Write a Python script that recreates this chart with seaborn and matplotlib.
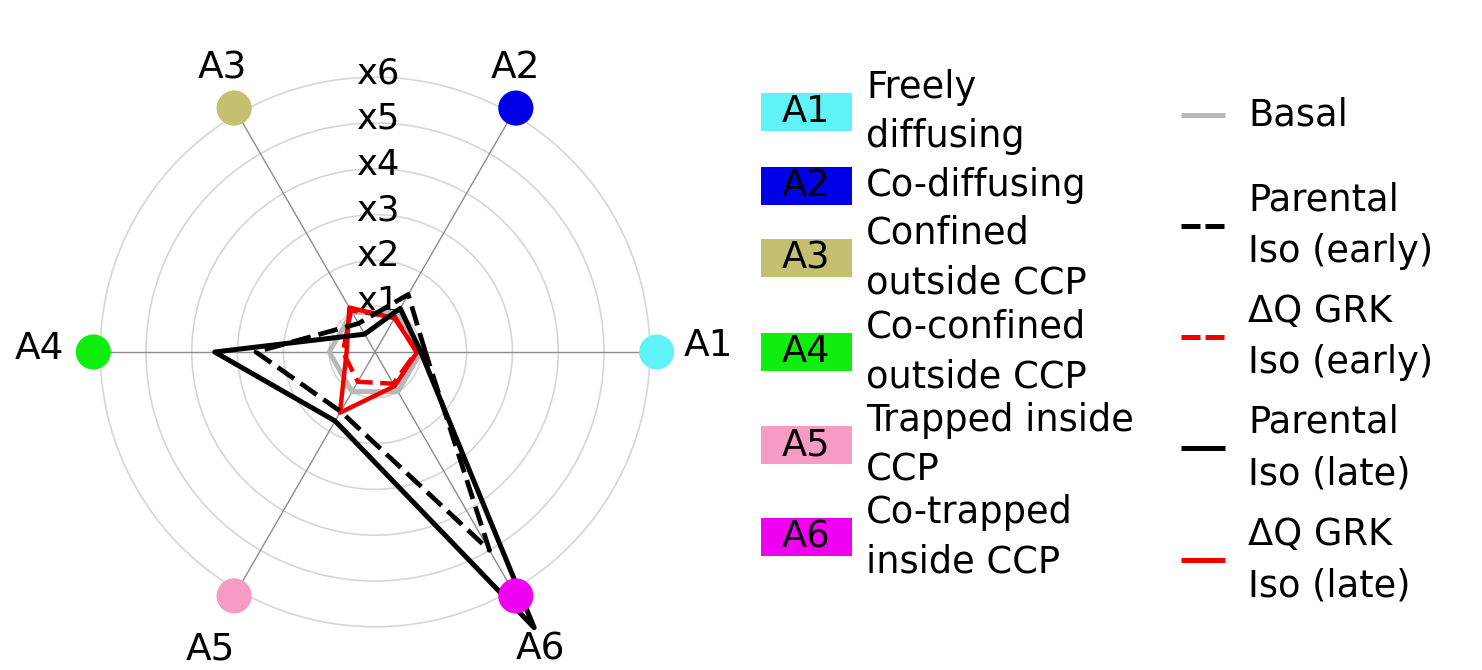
# Radar chart: SPT diffusion states, basal vs Iso stimulation
import numpy as np
import matplotlib
matplotlib.use("Agg")
import matplotlib.pyplot as plt
from matplotlib.lines import Line2D
from matplotlib.patches import Rectangle
import seaborn as sns

# =========================
# DATA
# =========================
axis_names = ["A1", "A2", "A3", "A4", "A5", "A6"]
axis_angles_deg = [0, 60, 120, 180, 240, 300]
axis_colors = ["#5ff2f7", "#0000e6", "#c4c070", "#10ee10", "#f59bc4", "#f000f0"]
class_names = [
    "Freely\ndiffusing",
    "Co-diffusing",
    "Confined\noutside CCP",
    "Co-confined\noutside CCP",
    "Trapped inside\nCCP",
    "Co-trapped\ninside CCP",
]

ring_values = [1, 2, 3, 4, 5, 6]
ring_labels = ["x1", "x2", "x3", "x4", "x5", "x6"]

basal = [1.0, 1.0, 1.0, 1.0, 1.0, 1.0]
parental_early = [1.1, 1.45, 0.72, 2.6, 1.5, 5.0]
dq_early = [0.9, 0.88, 1.05, 0.7, 0.75, 0.8]
parental_late = [1.0, 1.1, 0.45, 3.5, 1.74, 6.95]
dq_late = [0.92, 0.85, 1.12, 0.62, 1.53, 0.86]

series_labels = [
    "Basal",
    "Parental\nIso (early)",
    "\u0394Q GRK\nIso (early)",
    "Parental\nIso (late)",
    "\u0394Q GRK\nIso (late)",
]

# =========================
# STYLE
# =========================
sns.set_theme(style="white")
plt.rcParams["font.family"] = ["DejaVu Sans"]
plt.rcParams["text.color"] = "black"

W, H = 1482, 670
RED = "#f00000"
GRAY = "#b8b8b8"
DASH = (0, (4.2, 1.7))
series_styles = [
    dict(color=GRAY, lw=3.6, ls="-"),
    dict(color="black", lw=3.4, ls=DASH),
    dict(color=RED, lw=3.2, ls=DASH),
    dict(color="black", lw=3.6, ls="-"),
    dict(color=RED, lw=3.2, ls="-"),
]
LEG_FS = 26.5


def fx(px):
    return px / W


def fy(py):
    return 1 - py / H


fig = plt.figure(figsize=(W / 100, H / 100), dpi=100)

# polar axes: centre at (375, 352) px, 45.8 px per unit, rmax 7
rmax = 7.0
unit = 45.8
cx, cy = 375, 352
rad = rmax * unit
ax = fig.add_axes([fx(cx - rad), fy(cy + rad), 2 * rad / W, 2 * rad / H],
                  projection="polar")
ax.set_facecolor("none")
ax.set_ylim(0, rmax)
ax.set_xticks([])
ax.set_yticks(ring_values)
ax.set_yticklabels([])
ax.yaxis.grid(True, color="#d6d6d6", lw=1.2)
ax.spines["polar"].set_visible(False)

theta = np.deg2rad(axis_angles_deg)
dot_r = 6.15

# spokes
ax.vlines(theta, 0, dot_r, color="#8c8c8c", lw=1.0, zorder=1)

# ring labels
for r, lab in zip(ring_values, ring_labels):
    ax.annotate(lab, (np.pi / 2, r), xytext=(3, 3), textcoords="offset points",
                ha="center", va="center", fontsize=25.5, zorder=2)

# series lines (red below black)
theta_closed = np.append(theta, 2 * np.pi)
all_series = [basal, dq_early, dq_late, parental_early, parental_late]
order_styles = [series_styles[0], series_styles[2], series_styles[4],
                series_styles[1], series_styles[3]]
for vals, st in zip(all_series, order_styles):
    r_closed = np.append(vals, vals[0])
    sns.lineplot(x=theta_closed, y=r_closed, ax=ax, sort=False,
                 color=st["color"], linewidth=st["lw"], linestyle=st["ls"],
                 zorder=3, clip_on=False)

# category dots
sns.scatterplot(x=theta, y=[dot_r] * 6, hue=axis_names, palette=axis_colors,
                s=640, linewidth=0, legend=False, ax=ax, zorder=4, clip_on=False)

# category labels around dots (offsets in px)
label_offsets = [(52, 6), (0, 40), (-12, 40), (-54, 3), (-24, -54), (25, -54)]
for t, name, (dx, dy) in zip(theta, axis_names, label_offsets):
    ax.annotate(name, (t, dot_r), xytext=(dx * 0.72, dy * 0.72),
                textcoords="offset points", ha="center", va="center",
                fontsize=27, zorder=5)

ax.set_xlabel("")
ax.set_ylabel("")

# =========================
# LEFT LEGEND (classes)
# =========================
box_rows = [112, 186, 258, 352, 445, 537]
for yc, name, col, desc in zip(box_rows, axis_names, axis_colors, class_names):
    fig.add_artist(Rectangle((fx(761), fy(yc + 19)), 91 / W, 38 / H,
                             transform=fig.transFigure, facecolor=col,
                             edgecolor="none"))
    fig.text(fx(806), fy(yc), name, ha="center", va="center", fontsize=LEG_FS)
    fig.text(fx(866), fy(yc), desc, ha="left", va="center", fontsize=LEG_FS,
             linespacing=1.43)

# =========================
# RIGHT LEGEND (conditions)
# =========================
line_rows = [115, 226, 337, 448, 560]
for yc, lab, st in zip(line_rows, series_labels, series_styles):
    ls = st["ls"] if st["ls"] == "-" else (0, (3.8, 1.0))
    fig.add_artist(Line2D([fx(1181), fx(1225)], [fy(yc), fy(yc)],
                          transform=fig.transFigure, color=st["color"],
                          lw=3.6, ls=ls, solid_capstyle="butt",
                          dash_capstyle="butt"))
    fig.text(fx(1248), fy(yc), lab, ha="left", va="center", fontsize=LEG_FS,
             linespacing=1.5)

fig.savefig("out.png", dpi=100)
